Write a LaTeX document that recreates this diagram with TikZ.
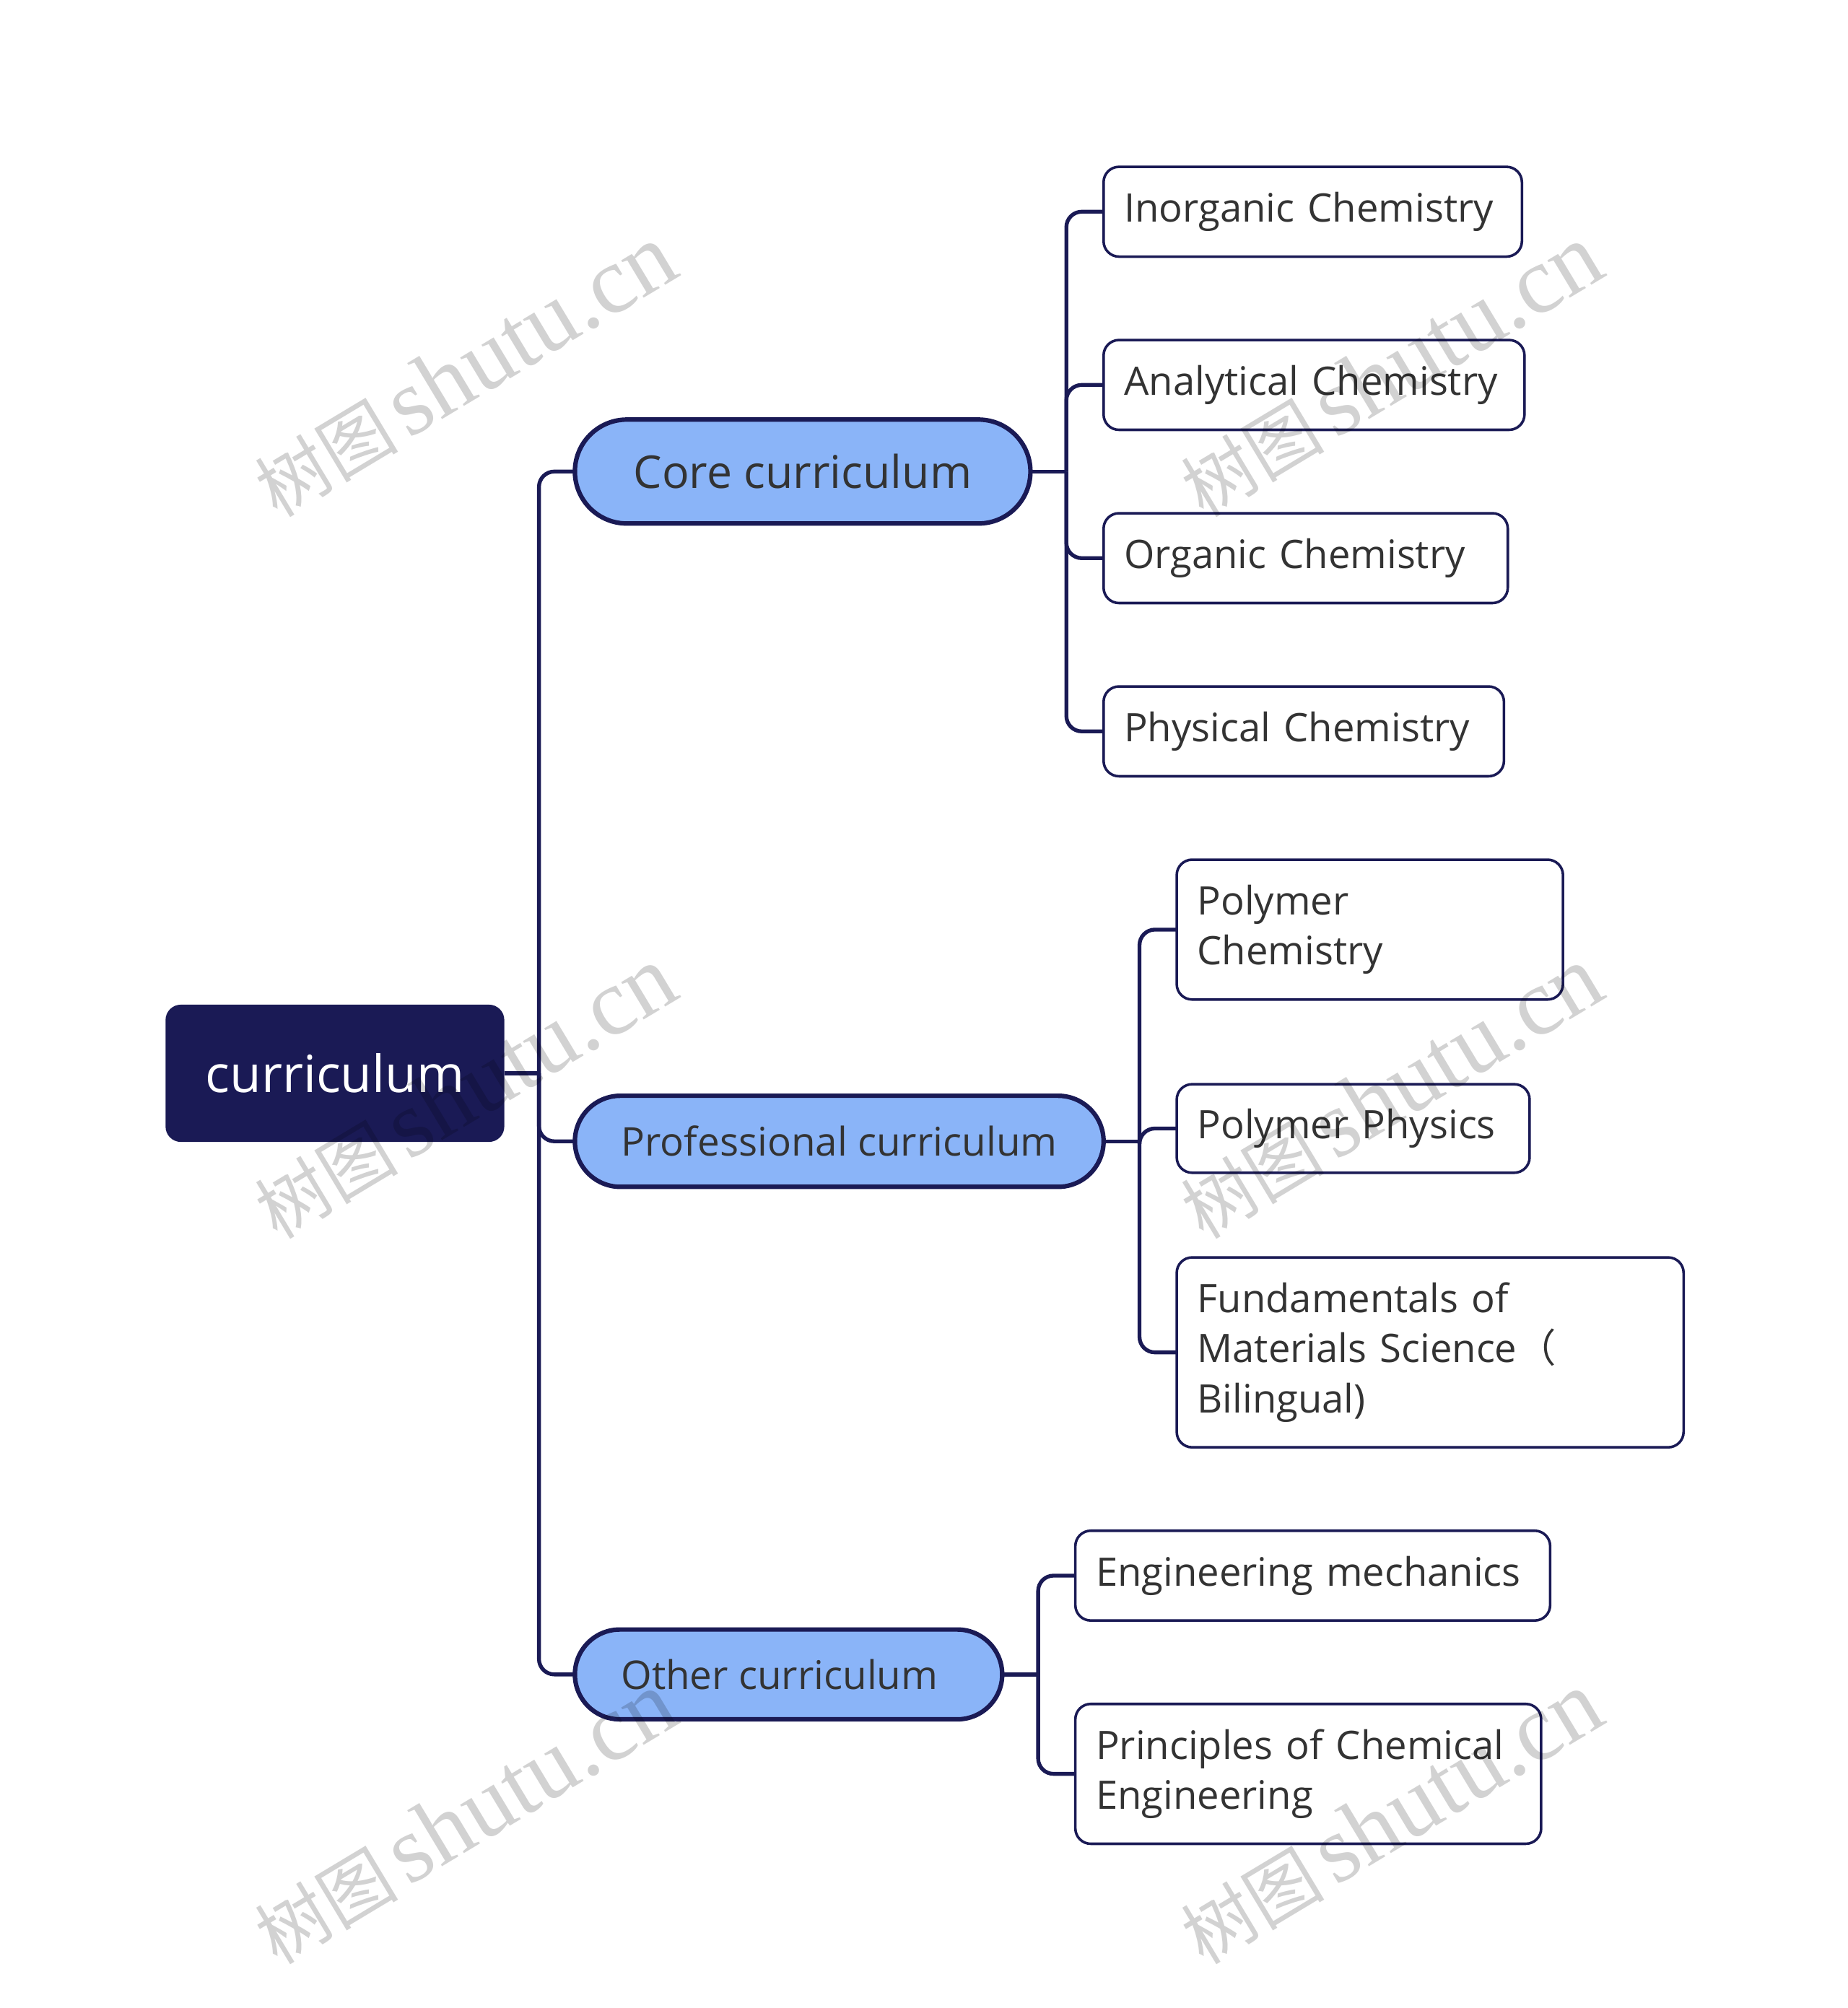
\documentclass[tikz,border=0pt]{standalone}
\usepackage{fontspec}
\setmainfont{Open Sans}
\newfontfamily\cjkfont{Noto Sans CJK SC}
\newfontfamily\markfont{Liberation Serif}
\usetikzlibrary{shapes.misc}

\definecolor{navy}{HTML}{1A1A55}
\definecolor{pillblue}{HTML}{8AB4F8}
\definecolor{txtgray}{HTML}{333333}
\definecolor{markgray}{HTML}{D2D2D2}

\tikzset{
  rootbox/.style={rectangle, rounded corners=6pt, fill=navy, text=white, anchor=west,
    inner sep=0pt, outer sep=0pt, font=\fontsize{20}{24}\selectfont},
  pill/.style={rounded rectangle, draw=navy, line width=1.75pt, fill=pillblue, text=txtgray,
    anchor=west, inner sep=0pt, outer sep=0pt},
  leaf/.style={rectangle, rounded corners=6pt, draw=navy, line width=1pt, fill=white,
    text=txtgray, anchor=west, align=left, inner xsep=8pt, inner ysep=0pt, outer sep=0pt,
    font=\fontsize{15.3}{19.5}\selectfont},
  link/.style={navy, line width=1.5pt, rounded corners=6pt},
  watermark/.style={markgray, rotate=31, inner sep=0pt}
}

\begin{document}
\begin{tikzpicture}[x=0.5pt,y=0.5pt,yscale=-1]
\useasboundingbox (0,0) rectangle (1440,1565);

% root
\node[rootbox, minimum width=132pt, minimum height=53.5pt] (root) at (129,836.5) {curriculum};

% second level
\node[pill, minimum width=177.5pt, minimum height=40.5pt, font=\fontsize{17.6}{20}\selectfont] (core) at (448,367.5) {Core curriculum};
\node[pill, minimum width=206pt, minimum height=35.5pt, font=\fontsize{15.4}{18}\selectfont] (prof) at (448,889.5) {Professional curriculum};
\node[pill, minimum width=166.5pt, minimum height=35pt, font=\fontsize{15.4}{18}\selectfont] (other) at (448,1305) {\hspace*{-7pt}Other curriculum};

% core leaves
\node[leaf, text width=147pt, minimum height=35pt] (inorg) at (860,165) {Inorganic Chemistry};
\node[leaf, text width=148pt, minimum height=35pt] (anal) at (860,300) {Analytical Chemistry};
\node[leaf, text width=141.5pt, minimum height=35pt] (organ) at (860,435) {Organic Chemistry};
\node[leaf, text width=140pt, minimum height=35pt] (phys) at (860,570) {Physical Chemistry};

% professional leaves
\node[leaf, text width=134.5pt, minimum height=54.5pt] (polychem) at (917,724.5) {Polymer\\Chemistry};
\node[leaf, text width=121.5pt, minimum height=34.5pt] (polyphys) at (917,879.5) {Polymer Physics};
\node[leaf, text width=181.5pt, minimum height=74pt] (fund) at (917,1054) {Fundamentals of\\Materials Science{\cjkfont （}\\Bilingual)};

% other leaves
\node[leaf, text width=169pt, minimum height=35pt] (engmech) at (838,1228) {Engineering mechanics};
\node[leaf, text width=165.5pt, minimum height=54.5pt] (princ) at (838,1382.5) {Principles of Chemical\\Engineering};

% junctions
\coordinate (j0) at ([xshift=13.5pt]root.east);
\coordinate (j1) at ([xshift=14pt]core.east);
\coordinate (j2) at ([xshift=14pt]prof.east);
\coordinate (j3) at ([xshift=14pt]other.east);

% connections
\draw[link] (root.east) -- (j0);
\foreach \c in {core,prof,other}
  \draw[link] (j0) |- (\c.west);
\draw[link] (core.east) -- (j1);
\foreach \c in {inorg,anal,organ,phys}
  \draw[link] (j1) |- (\c.west);
\draw[link] (prof.east) -- (j2);
\foreach \c in {polychem,polyphys,fund}
  \draw[link] (j2) |- (\c.west);
\draw[link] (other.east) -- (j3);
\foreach \c in {engmech,princ}
  \draw[link] (j3) |- (\c.west);

% watermarks
\begin{scope}[blend mode=multiply]
\foreach \wx/\wi in {362/a,1084/b}
  \foreach \wy/\wj in {289/1,851.5/2,1417/3}
    \node[watermark] (wm\wi\wj) at (\wx,\wy)
      {{\cjkfont\fontsize{28}{28}\selectfont 树图}\hspace{4pt}{\markfont\fontsize{37}{37}\selectfont shutu.cn}};
\end{scope}

\end{tikzpicture}
\end{document}
